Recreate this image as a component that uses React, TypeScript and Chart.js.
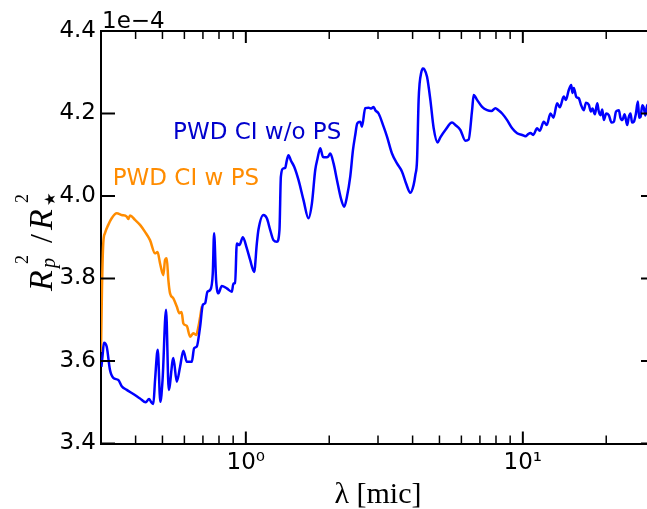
import React, { useEffect, useRef } from 'react';
import { Chart, registerables } from 'chart.js';

Chart.register(...registerables);

// Wavelength (micron) and transit depth (units of 1e-4)
const blueLambda = [
  0.301, 0.3038, 0.3075, 0.3145, 0.3233, 0.3322, 0.3464, 0.3564, 0.3715, 0.3925,
  0.415, 0.4351, 0.4472, 0.4548, 0.4636, 0.4702, 0.4808, 0.4913, 0.5004, 0.5152,
  0.5269, 0.5474, 0.5632, 0.5789, 0.595, 0.6121, 0.6381, 0.6505, 0.6652, 0.6837,
  0.6993, 0.7128, 0.7266, 0.743, 0.7598, 0.7681, 0.781, 0.7961, 0.8188, 0.8537,
  0.8901, 0.902, 0.9147, 0.9278, 0.9482, 0.9754, 1.0083, 1.0364, 1.0715, 1.0958,
  1.1104, 1.1576, 1.1909, 1.224, 1.258, 1.2942, 1.3225, 1.3381, 1.3674, 1.3868,
  1.4067, 1.4256, 1.4541, 1.4948, 1.5491, 1.615, 1.6836, 1.732, 1.7805, 1.8148,
  1.8559, 1.8982, 1.9349, 1.9787, 2.0172, 2.0734, 2.1327, 2.2045, 2.2662, 2.3174,
  2.3818, 2.4361, 2.483, 2.525, 2.588, 2.625, 2.698, 2.774, 2.837, 2.893,
  2.934, 3.015, 3.143, 3.233, 3.37, 3.513, 3.663, 3.786, 3.925, 4.034,
  4.092, 4.15, 4.205, 4.24, 4.29, 4.355, 4.41, 4.51, 4.636, 4.764,
  4.925, 5.037, 5.252, 5.553, 5.707, 5.95, 6.203, 6.375, 6.558, 6.646,
  6.836, 7.127, 7.43, 7.7, 7.962, 8.163, 8.418, 8.776, 9.151, 9.537,
  9.942, 10.22, 10.45, 10.65, 10.9, 11.26, 11.5, 11.9, 12.2, 12.58,
  12.9, 13.3, 13.6, 14.05, 14.3, 14.65, 14.95, 15.1, 15.28, 15.6,
  15.92, 16.2, 16.6, 16.9, 17.31, 17.6, 17.85, 18.2, 18.56, 18.8,
  19.08, 19.35, 19.61, 20.0, 20.43, 20.9, 21.31, 21.7, 22.22, 22.5,
  22.86, 23.3, 23.82, 24.1, 24.48, 24.8, 25.16, 25.6, 26.02, 26.3,
  26.61, 27.0, 27.35, 27.7, 28.13, 28.6, 29.1, 29.5, 30.0,
];
const blueValue = [
  3.586, 3.612, 3.644, 3.635, 3.578, 3.559, 3.554, 3.539, 3.53, 3.52,
  3.509, 3.5, 3.508, 3.501, 3.496, 3.554, 3.627, 3.501, 3.554, 3.724,
  3.53, 3.607, 3.55, 3.586, 3.625, 3.598, 3.598, 3.631, 3.635, 3.683,
  3.736, 3.74, 3.768, 3.772, 3.813, 3.91, 3.796, 3.764, 3.782, 3.776,
  3.768, 3.788, 3.789, 3.885, 3.881, 3.9, 3.873, 3.845, 3.816, 3.885,
  3.918, 3.954, 3.946, 3.918, 3.893, 3.889, 3.918, 4.047, 4.067, 4.068,
  4.087, 4.099, 4.086, 4.071, 4.039, 3.99, 3.946, 3.982, 4.063, 4.091,
  4.116, 4.095, 4.094, 4.095, 4.103, 4.079, 4.039, 3.994, 3.974, 3.998,
  4.047, 4.111, 4.148, 4.176, 4.18, 4.168, 4.213, 4.214, 4.212, 4.216,
  4.208, 4.2, 4.168, 4.144, 4.103, 4.079, 4.059, 4.031, 4.008, 4.027,
  4.051, 4.087, 4.233, 4.273, 4.297, 4.309, 4.307, 4.289, 4.233, 4.165,
  4.13, 4.142, 4.16, 4.178, 4.172, 4.16, 4.134, 4.137, 4.208, 4.245,
  4.233, 4.216, 4.208, 4.206, 4.213, 4.208, 4.2, 4.184, 4.164, 4.152,
  4.148, 4.145, 4.15, 4.153, 4.148, 4.164, 4.158, 4.18, 4.172, 4.2,
  4.19, 4.225, 4.215, 4.241, 4.233, 4.257, 4.269, 4.25, 4.262, 4.24,
  4.237, 4.222, 4.208, 4.226, 4.221, 4.205, 4.212, 4.198, 4.225, 4.205,
  4.196, 4.21, 4.184, 4.2, 4.196, 4.178, 4.18, 4.205, 4.208, 4.19,
  4.184, 4.198, 4.172, 4.19, 4.2, 4.178, 4.18, 4.2, 4.229, 4.19,
  4.192, 4.22, 4.213, 4.195, 4.221, 4.2, 4.215, 4.198, 4.21,
];

const orangeLambda = [
  0.3, 0.3024, 0.3057, 0.3101, 0.3187, 0.3279, 0.3418, 0.3564, 0.3715, 0.3765,
  0.3819, 0.3981, 0.415, 0.4326, 0.4509, 0.4702, 0.48, 0.49, 0.5038, 0.5109,
  0.5182, 0.5252, 0.5326, 0.5474, 0.5632, 0.5754, 0.5861, 0.595, 0.6121, 0.6291,
  0.6466, 0.6613, 0.6741, 0.6934,
];
const orangeValue = [
  3.622, 3.772, 3.885, 3.91, 3.93, 3.946, 3.958, 3.954, 3.95, 3.944,
  3.953, 3.942, 3.93, 3.913, 3.893, 3.861, 3.864, 3.837, 3.808, 3.845,
  3.849, 3.796, 3.764, 3.752, 3.732, 3.716, 3.719, 3.691, 3.685, 3.659,
  3.667, 3.663, 3.683, 3.732,
];

const yTicks = [3.4, 3.6, 3.8, 4.0, 4.2, 4.4];
const xMajorTicks = [1, 10];
const xTickLabels = ['10\u2070', '10\u00B9'];
const xMinorTicks = [0.3, 0.4, 0.5, 0.6, 0.7, 0.8, 0.9, 2, 3, 4, 5, 6, 7, 8, 9, 20, 30];
const offsetText = '1e\u22124';
const seriesNames = ['PWD CI w/o PS', 'PWD CI w PS'];
const labelLambda = [0.546, 0.3307];
const labelValue = [4.153, 4.041];

const BLUE = '#0000ff';
const BLUE_TEXT = '#0000cd';
const ORANGE = '#ff8c00';

const decorPlugin = {
  id: 'decor',
  afterDraw(chart: any) {
    const { ctx, chartArea: a, scales } = chart;
    const xs = scales.x;
    const ys = scales.y;
    ctx.save();
    ctx.strokeStyle = '#000';
    ctx.lineCap = 'butt';
    const line = (x1: number, y1: number, x2: number, y2: number, w: number) => {
      ctx.lineWidth = w;
      ctx.beginPath();
      ctx.moveTo(x1, y1);
      ctx.lineTo(x2, y2);
      ctx.stroke();
    };
    // top & right spines
    line(a.left - 1, a.top, a.right + 1, a.top, 2);
    line(a.right, a.top, a.right, a.bottom, 2);
    // y ticks (inward, both sides)
    for (const v of yTicks) {
      const py = ys.getPixelForValue(v);
      line(a.left, py, a.left + 14, py, 2);
      line(a.right, py, a.right - 14, py, 2);
    }
    // x ticks (inward, top & bottom)
    for (const v of xMajorTicks) {
      const px = xs.getPixelForValue(v);
      line(px, a.bottom, px, a.bottom - 12, 2);
      line(px, a.top, px, a.top + 12, 2);
    }
    for (const v of xMinorTicks) {
      const px = xs.getPixelForValue(v);
      line(px, a.bottom, px, a.bottom - 8, 1.5);
      line(px, a.top, px, a.top + 8, 1.5);
    }
    // offset text
    ctx.fillStyle = '#000';
    ctx.font = '23px "DejaVu Sans"';
    ctx.textAlign = 'left';
    ctx.textBaseline = 'alphabetic';
    ctx.fillText(offsetText, a.left + 1, 27.5);
    // series labels
    ctx.font = '23px "DejaVu Sans"';
    ctx.textBaseline = 'middle';
    const colors = [BLUE_TEXT, ORANGE];
    for (let i = 0; i < seriesNames.length; i++) {
      ctx.fillStyle = colors[i];
      ctx.fillText(seriesNames[i], xs.getPixelForValue(labelLambda[i]), ys.getPixelForValue(labelValue[i]));
    }
    // y-axis title: R_p^2 / R_star^2
    ctx.fillStyle = '#000';
    ctx.textBaseline = 'alphabetic';
    ctx.translate(52, 291);
    ctx.rotate(-Math.PI / 2);
    const big = 'italic 34px "Liberation Serif"';
    const sup = '18px "Liberation Serif"';
    const subIt = 'italic 20px "Liberation Serif"';
    const roman = '32px "Liberation Serif"';
    ctx.font = big;
    ctx.fillText('R', 0, 0);
    ctx.font = sup;
    ctx.fillText('2', 27, -24);
    ctx.font = subIt;
    ctx.fillText('p', 23, 3);
    ctx.font = roman;
    ctx.fillText('/', 48, 0);
    ctx.font = big;
    ctx.fillText('R', 61, 0);
    ctx.font = sup;
    ctx.fillText('2', 88, -24);
    ctx.font = '15px "DejaVu Sans"';
    ctx.fillText('\u2605', 85, 3);
    ctx.restore();
  },
};

export default function App() {
  const ref = useRef<HTMLCanvasElement | null>(null);
  useEffect(() => {
    if (!ref.current) return;
    const chart = new Chart(ref.current, {
      type: 'line',
      data: {
        datasets: [
          {
            label: seriesNames[0],
            data: blueLambda.map((x, i) => ({ x, y: blueValue[i] })),
            borderColor: BLUE,
            borderWidth: 2.5,
            pointRadius: 0,
            cubicInterpolationMode: 'monotone',
            fill: false,
          },
          {
            label: seriesNames[1],
            data: orangeLambda.map((x, i) => ({ x, y: orangeValue[i] })),
            borderColor: ORANGE,
            borderWidth: 2.5,
            pointRadius: 0,
            cubicInterpolationMode: 'monotone',
            fill: false,
          },
        ],
      },
      options: {
        animation: false,
        responsive: true,
        maintainAspectRatio: false,
        devicePixelRatio: 1,
        layout: { padding: { top: 31, left: 0, right: 0, bottom: 0 } },
        plugins: { legend: { display: false }, tooltip: { enabled: false } },
        scales: {
          x: {
            type: 'logarithmic',
            min: 0.3,
            max: 30,
            grid: { display: false, drawTicks: false },
            border: { display: true, color: '#000', width: 2 },
            afterBuildTicks: (scale: any) => {
              scale.ticks = xMajorTicks.map((v) => ({ value: v }));
            },
            afterFit: (scale: any) => {
              scale.height = 65.5;
            },
            ticks: {
              autoSkip: false,
              maxRotation: 0,
              padding: 6,
              color: '#000',
              font: { family: 'DejaVu Sans', size: 23 },
              callback: (v: any) => {
                const i = xMajorTicks.indexOf(Number(v));
                return i >= 0 ? xTickLabels[i] : '';
              },
            },
            title: {
              display: true,
              text: '\u03BB [mic]',
              color: '#000',
              font: { family: 'Liberation Serif', size: 30 },
              padding: { top: 0, bottom: -4 },
            },
          },
          y: {
            type: 'linear',
            min: 3.4,
            max: 4.4,
            grid: { display: false, drawTicks: false },
            border: { display: true, color: '#000', width: 2 },
            afterBuildTicks: (scale: any) => {
              scale.ticks = yTicks.map((v) => ({ value: v }));
            },
            afterFit: (scale: any) => {
              scale.width = 101;
            },
            ticks: {
              padding: 5,
              color: '#000',
              font: { family: 'DejaVu Sans', size: 23 },
              callback: (v: any) => Number(v).toFixed(1),
            },
          },
        },
      },
      plugins: [decorPlugin],
    } as any);
    return () => chart.destroy();
  }, []);
  return (
    <div style={{ position: 'fixed', left: 0, top: 0, width: 655, height: 509 }}>
      <canvas ref={ref} />
    </div>
  );
}
